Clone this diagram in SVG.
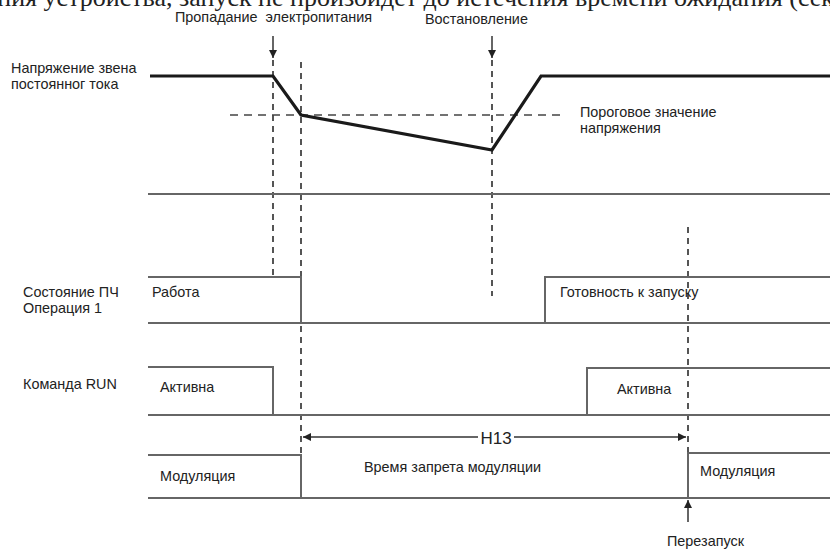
<svg xmlns="http://www.w3.org/2000/svg" width="830" height="549" viewBox="0 0 830 549">
<style>
text{font-family:"Liberation Sans",Arial,sans-serif;font-size:14.4px;fill:#222}
.lvl{stroke:#666;stroke-width:2;fill:none}
.dv{stroke:#555;stroke-width:2;stroke-dasharray:6 5;fill:none}
.thr{stroke:#444;stroke-width:1.6;stroke-dasharray:8 6;fill:none}
.arr{stroke:#333;stroke-width:1.5;fill:none}
</style>
<defs>
<marker id="ah" viewBox="0 0 10 10" refX="10" refY="5" markerWidth="10" markerHeight="8" markerUnits="userSpaceOnUse" orient="auto-start-reverse">
<path d="M0,0 L10,5 L0,10 z" fill="#222"/>
</marker>
</defs>
<rect width="830" height="549" fill="#fff"/>
<text x="834" y="6" text-anchor="end" style="font-family:'Liberation Serif',serif;font-size:26px">электропитания устройства, запуск не произойдет до истечения времени ожидания (сек</text>

<g id="labels">
<text x="175" y="22">Пропадание&#160; электропитания</text>
<text x="425" y="24">Востановление</text>
<text x="11" y="73">Напряжение звена</text>
<text x="11" y="89">постоянног тока</text>
<text x="580" y="117">Пороговое значение</text>
<text x="580" y="133">напряжения</text>
<text x="23" y="297">Состояние ПЧ</text>
<text x="23" y="313">Операция 1</text>
<text x="23" y="389">Команда RUN</text>
</g>

<g id="connectors">
<line class="dv" x1="273" y1="60" x2="273" y2="278"/>
<line class="dv" x1="301" y1="62" x2="301" y2="456"/>
<line class="dv" x1="492" y1="60" x2="492" y2="296"/>
<line class="dv" x1="688" y1="227" x2="688" y2="454"/>
<line class="thr" x1="230" y1="115" x2="566" y2="115"/>
<line class="arr" x1="273" y1="36" x2="273" y2="58" marker-end="url(#ah)"/>
<line class="arr" x1="492" y1="36" x2="492" y2="58" marker-end="url(#ah)"/>
<line class="arr" x1="688" y1="522" x2="688" y2="500" marker-end="url(#ah)"/>
<line class="arr" x1="303" y1="437" x2="478" y2="437" marker-start="url(#ah)"/>
<line class="arr" x1="514" y1="437" x2="686" y2="437" marker-end="url(#ah)"/>
</g>

<g id="dc-voltage">
<line class="lvl" x1="148" y1="194" x2="830" y2="194"/>
<polyline points="150,76 273,76 301,115 492,150 541,76 830,76" fill="none" stroke="#1a1a1a" stroke-width="3.2" stroke-linejoin="miter"/>
</g>

<g id="state">
<polyline class="lvl" points="148,277 301,277 301,323"/>
<line class="lvl" x1="148" y1="323" x2="830" y2="323"/>
<polyline class="lvl" points="545,323 545,277 830,277"/>
<text x="152" y="297">Работа</text>
<text x="560" y="297">Готовность к запуску</text>
</g>

<g id="run">
<polyline class="lvl" points="148,367 273,367 273,415"/>
<line class="lvl" x1="148" y1="415" x2="830" y2="415"/>
<polyline class="lvl" points="587,415 587,368 830,368"/>
<text x="160" y="392">Активна</text>
<text x="617" y="394">Активна</text>
</g>

<g id="h13">
<text x="496" y="444" text-anchor="middle" style="font-size:17px">H13</text>
<text x="364" y="472">Время запрета модуляции</text>
</g>

<g id="modulation">
<polyline class="lvl" points="148,455 301,455 301,498"/>
<line class="lvl" x1="148" y1="498" x2="830" y2="498"/>
<polyline class="lvl" points="688,498 688,453 830,453"/>
<text x="160" y="481">Модуляция</text>
<text x="700" y="476">Модуляция</text>
<text x="667" y="546">Перезапуск</text>
</g>
</svg>
